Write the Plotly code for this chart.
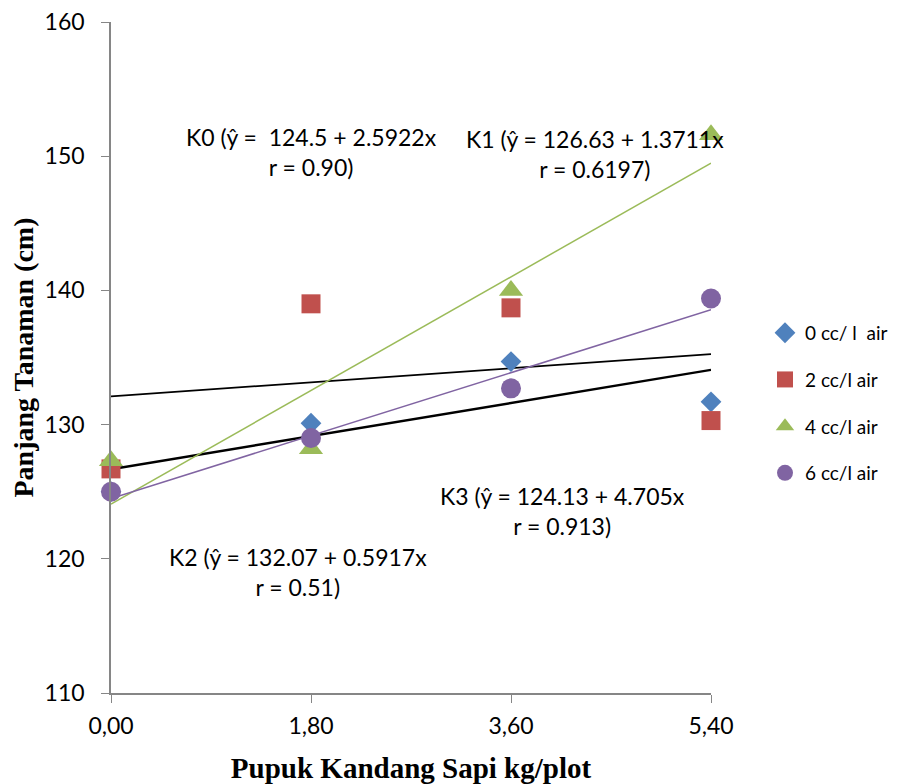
import numpy as np
import plotly.graph_objects as go

x_vals = [0.0, 1.8, 3.6, 5.4]
x_labels = ["0,00", "1,80", "3,60", "5,40"]
y_ticks = [110, 120, 130, 140, 150, 160]

series_names = ["0 cc/\u00a0l \u00a0air", "2 cc/l air", "4 cc/l air", "6 cc/l air"]
y_0cc = [125.0, 130.1, 134.7, 131.7]
y_2cc = [126.7, 139.0, 138.7, 130.3]
y_4cc = [127.3, 128.2, 140.0, 151.6]
y_6cc = [125.0, 129.0, 132.7, 139.4]

colors = ["#4F81BD", "#C0504D", "#9BBB59", "#8064A2"]
symbols = ["diamond", "square", "triangle-up", "circle"]
marker_sizes = [16, 19, 21, 20]
trend_colors = ["#000000", "#000000", "#9BBB59", "#8064A2"]
trend_widths = [2.4, 1.8, 1.5, 1.5]

eq_texts = [
    "K0 (ŷ = \u00a0124.5 + 2.5922x<br>r = 0.90)",
    "K1 (ŷ = 126.63 + 1.3711x<br>r = 0.6197)",
    "K2 (ŷ = 132.07 + 0.5917x<br>r = 0.51)",
    "K3 (ŷ = 124.13 + 4.705x<br>r = 0.913)",
]
eq_pos = [(1.80, 150.35), (4.356, 150.13), (1.683, 119.02), (4.06, 123.56)]

font_main = "Lato, 'Open Sans', sans-serif"
font_title = "'Liberation Serif', 'Times New Roman', serif"
fig = go.Figure()

all_series = [y_0cc, y_2cc, y_4cc, y_6cc]
xs = np.array(x_vals)
# linear trendline of each series
for i, ys in enumerate(all_series):
    b, a = np.polyfit(xs, np.array(ys), 1)
    fig.add_trace(go.Scatter(
        x=[xs[0], xs[-1]], y=[a + b * xs[0], a + b * xs[-1]],
        mode="lines", line=dict(color=trend_colors[i], width=trend_widths[i]),
        showlegend=False, hoverinfo="skip", cliponaxis=False))

for i, ys in enumerate(all_series):
    fig.add_trace(go.Scatter(
        x=x_vals, y=ys, mode="markers", name=series_names[i],
        legendgroup=str(i), cliponaxis=False,
        marker=dict(symbol=symbols[i], color=colors[i],
                    size=marker_sizes[i], line=dict(width=0))))

for txt, (ax, ay) in zip(eq_texts, eq_pos):
    fig.add_annotation(x=ax, y=ay, text=txt, showarrow=False,
                       align="center", xanchor="center", yanchor="middle",
                       font=dict(family=font_main, size=23, color="#000000"))

# page body has an 8px margin, so the figure is 8px smaller and margins shifted
fig.update_layout(
    width=897, height=776, autosize=False,
    margin=dict(l=103, r=194, t=14, b=91),
    paper_bgcolor="white", plot_bgcolor="white",
    font=dict(family=font_main, size=21, color="#000000"),
    legend=dict(x=1.090, y=0.565, xanchor="left", yanchor="top",
                font=dict(family=font_main, size=19),
                tracegroupgap=19, itemwidth=30, bgcolor="rgba(0,0,0,0)"),
)
fig.update_xaxes(
    range=[0, 5.4], tickvals=x_vals, ticktext=x_labels, automargin=False,
    showgrid=False, zeroline=False, showline=True, linecolor="#868686",
    linewidth=1.5, ticks="outside", ticklen=8, tickcolor="#868686",
    tickfont=dict(family=font_main, size=23), ticklabelstandoff=4,
    ticklabeloverflow="allow",
    title=dict(text="<b>Pupuk Kandang Sapi kg/plot</b>",
               font=dict(family=font_title, size=29), standoff=21),
)
fig.update_yaxes(
    range=[110, 160], tickvals=y_ticks, automargin=False,
    showgrid=False, zeroline=False, showline=True, linecolor="#868686",
    linewidth=1.5, ticks="outside", ticklen=8, tickcolor="#868686",
    tickfont=dict(family=font_main, size=23), ticklabelstandoff=12,
    ticklabeloverflow="allow",
    title=dict(text="<b>Panjang Tanaman (cm)</b>",
               font=dict(family=font_title, size=28), standoff=3),
)

fig.write_html("out.html")
